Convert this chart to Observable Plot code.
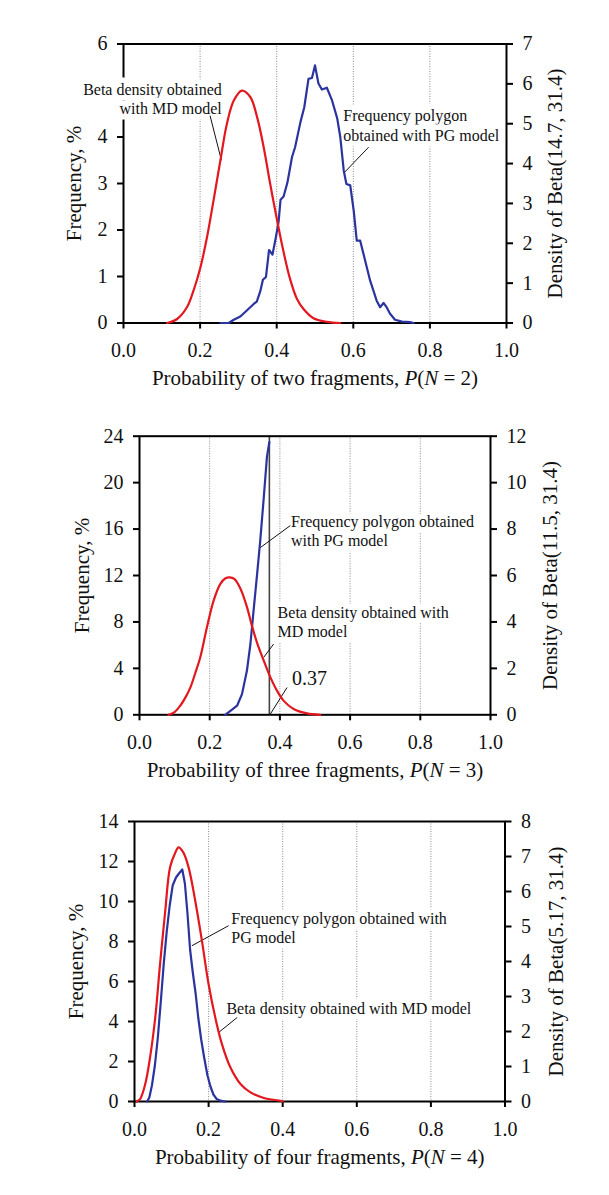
<!DOCTYPE html>
<html>
<head>
<meta charset="utf-8">
<script src="https://cdn.jsdelivr.net/npm/d3@7"></script>
<script src="https://cdn.jsdelivr.net/npm/@observablehq/plot@0.6"></script>
<style>
  body { margin: 0; background: #fff; }
  #wrap { position: relative; width: 609px; height: 1195px; overflow: hidden; background: #fff; }
  #border { position: absolute; left: 15px; top: 4px; width: 700px; height: 1300px; border-left: 1.5px solid #c8c8c8; border-top: 1.5px solid #c8c8c8; }
</style>
</head>
<body>
<div id="wrap"><div id="border"></div></div>
<script>
// ---------- shared ----------
const xTicks = [0, 0.2, 0.4, 0.6, 0.8, 1.0];
const gridX = [0.2, 0.4, 0.6, 0.8];

// ---------- Panel 1: P(N = 2) ----------
const p1FreqX = [0.253,0.275,0.288,0.305,0.322,0.331,0.340,0.348,0.357,0.364,0.372,0.380,0.389,0.398,0.405,0.410,0.418,0.428,0.440,0.448,0.462,0.472,0.483,0.492,0.500,0.509,0.518,0.531,0.544,0.558,0.566,0.575,0.582,0.592,0.601,0.609,0.618,0.631,0.644,0.661,0.670,0.679,0.687,0.696,0.709,0.727,0.748,0.757];
const p1FreqY = [0.00,0.00,0.07,0.14,0.27,0.34,0.41,0.46,0.68,0.93,0.99,1.57,1.47,1.85,2.18,2.65,2.72,3.02,3.57,3.78,4.32,4.64,5.25,5.27,5.54,5.15,5.02,5.06,4.80,4.40,4.00,3.28,2.99,2.96,2.42,1.77,1.77,1.34,0.91,0.48,0.34,0.43,0.34,0.20,0.07,0.03,0.02,0.00];
const p1BetaX = [0.114,0.140,0.166,0.183,0.201,0.218,0.235,0.253,0.270,0.288,0.309,0.331,0.349,0.366,0.383,0.401,0.418,0.435,0.453,0.470,0.496,0.531,0.566];
const p1BetaY = [0.00,0.10,0.40,0.82,1.40,2.15,3.07,4.08,5.00,5.58,5.83,5.67,5.16,4.41,3.49,2.58,1.78,1.10,0.60,0.35,0.12,0.03,0.00];
// the "5" tick of the left axis is hidden behind the annotation in the original
const p1LeftTicks = [0,1,2,3,4,6];
const p1RightTicks = [0,1,2,3,4,5,6,7];
const p1Texts = {
  left: "Frequency, %",
  right: "Density of Beta(14.7, 31.4)",
  bottom: "Probability of two fragments, P(N = 2)"
};
const p1Notes = [
  {x: 0.2566, y: 4.84, text: "Beta density obtained\nwith MD model", anchor: "end", size: 16},
  {x: 0.5737, y: 4.26, text: "Frequency polygon\nobtained with PG model", anchor: "start", size: 16}
];
const p1Leaders = [
  {x1: 0.226, y1: 4.46, x2: 0.2556, y2: 3.50},
  {x1: 0.640, y1: 3.78, x2: 0.577, y2: 3.24}
];

// ---------- Panel 2: P(N = 3) ----------
const p2FreqX = [0.244,0.259,0.278,0.292,0.306,0.316,0.325,0.335,0.344,0.354,0.363,0.370];
const p2FreqY = [0.0,0.34,0.78,1.78,3.79,6.1,8.97,12.1,15.0,18.7,22.2,23.5];
const p2BetaX = [0.083,0.100,0.116,0.131,0.145,0.159,0.173,0.192,0.211,0.230,0.245,0.257,0.270,0.287,0.306,0.320,0.335,0.354,0.373,0.392,0.411,0.439,0.477,0.515];
const p2BetaY = [0.00,0.12,0.39,0.75,1.18,1.80,2.47,3.76,4.91,5.63,5.88,5.92,5.85,5.45,4.65,3.85,3.10,2.33,1.61,1.03,0.60,0.25,0.06,0.00];
const p2LeftTicks = [0,4,8,12,16,20,24];
const p2RightTicks = [0,2,4,6,8,10,12];
const p2Marker = [0.37];
const p2Texts = {
  left: "Frequency, %",
  right: "Density of Beta(11.5, 31.4)",
  bottom: "Probability of three fragments, P(N = 3)"
};
const p2Notes = [
  {x: 0.4317, y: 15.9, text: "Frequency polygon obtained\nwith PG model", anchor: "start", size: 16},
  {x: 0.3935, y: 8.03, text: "Beta density obtained with\nMD model", anchor: "start", size: 16},
  {x: 0.4346, y: 3.22, text: "0.37", anchor: "start", size: 20}
];
const p2Leaders = [
  {x1: 0.4297, y1: 16.3, x2: 0.344, y2: 14.4},
  {x1: 0.382, y1: 6.09, x2: 0.3536, y2: 4.94},
  {x1: 0.4203, y1: 2.35, x2: 0.3727, y2: 0.06}
];

// ---------- Panel 3: P(N = 4) ----------
const p3FreqX = [0.034,0.040,0.047,0.055,0.063,0.071,0.079,0.087,0.095,0.103,0.112,0.120,0.129,0.136,0.143,0.150,0.157,0.165,0.172,0.180,0.188,0.197,0.205,0.213,0.222,0.232,0.245];
const p3FreqY = [0.0,0.2,0.8,1.8,3.2,5.0,6.9,8.5,9.8,10.8,11.2,11.4,11.6,10.9,9.4,7.6,6.5,5.4,4.2,3.1,2.2,1.3,0.75,0.35,0.12,0.04,0.0];
const p3BetaX = [0.006,0.015,0.029,0.042,0.056,0.069,0.083,0.096,0.110,0.119,0.132,0.146,0.164,0.182,0.200,0.218,0.236,0.259,0.286,0.313,0.349,0.394,0.400];
const p3BetaY = [0.00,0.07,0.50,1.26,2.40,3.93,5.45,6.69,7.11,7.26,7.11,6.69,5.73,4.59,3.35,2.40,1.64,0.97,0.50,0.26,0.10,0.02,0.00];
const p3LeftTicks = [0,2,4,6,8,10,12,14];
const p3RightTicks = [0,1,2,3,4,5,6,7,8];
const p3Texts = {
  left: "Frequency, %",
  right: "Density of Beta(5.17, 31.4)",
  bottom: "Probability of four fragments, P(N = 4)"
};
const p3Notes = [
  {x: 0.2614, y: 8.72, text: "Frequency polygon obtained with\nPG model", anchor: "start", size: 16},
  {x: 0.248, y: 4.70, text: "Beta density obtained with MD model", anchor: "start", size: 16}
];
const p3Leaders = [
  {x1: 0.254, y1: 8.79, x2: 0.155, y2: 7.79},
  {x1: 0.277, y1: 4.20, x2: 0.227, y2: 3.45}
];

// ---------- drawing ----------
const FONT = "'Liberation Serif','Times New Roman',Times,serif";
const BLUE = "#2b339e";
const RED = "#e3181f";

function zip(xs, ys) { return xs.map((x, i) => ({x, y: ys[i]})); }

function italicize(svg) {
  svg.querySelectorAll("text").forEach(t => {
    const s = t.textContent;
    const m = s.match(/^(.*), P\(N = (\d)\)$/);
    if (!m) return;
    while (t.firstChild) t.removeChild(t.firstChild);
    const NS = "http://www.w3.org/2000/svg";
    const add = (str, it) => {
      const ts = document.createElementNS(NS, "tspan");
      if (it) ts.setAttribute("font-style", "italic");
      ts.textContent = str;
      t.appendChild(ts);
    };
    add(m[1] + ", ", false);
    add("P", true);
    add("(", false);
    add("N", true);
    add(" = " + m[2] + ")", false);
  });
}

function panel(cfg) {
  const common = {
    width: 609, height: cfg.height,
    marginLeft: cfg.ml, marginRight: cfg.mr, marginTop: cfg.mt, marginBottom: cfg.mb
  };
  const freq = zip(cfg.freqX, cfg.freqY);
  const beta = zip(cfg.betaX, cfg.betaY);
  const startNotes = cfg.notes.filter(d => d.anchor === "start");
  const endNotes = cfg.notes.filter(d => d.anchor === "end");
  const noteMarks = [];
  for (const [arr, anchor] of [[startNotes, "start"], [endNotes, "end"]]) {
    for (const size of [16, 20]) {
      const sub = arr.filter(d => d.size === size);
      if (!sub.length) continue;
      noteMarks.push(Plot.text(sub, {
        x: "x", y: "y", text: "text", textAnchor: anchor, lineAnchor: "middle",
        fontSize: size, lineHeight: 1.19, fill: "#111",
        stroke: "white", strokeWidth: 11, strokeLinejoin: "round", paintOrder: "stroke"
      }));
    }
  }
  const A = Plot.plot({
    ...common,
    x: {domain: [0, 1]},
    y: {domain: [0, cfg.leftMax]},
    style: {fontFamily: FONT, background: "white", overflow: "visible"},
    marks: [
      Plot.ruleX(gridX, {stroke: "#8a8a8a", strokeWidth: 1, strokeDasharray: "1,1.5"}),
      ...(cfg.marker ? [Plot.ruleX(cfg.marker, {stroke: "#444", strokeWidth: 1.6})] : []),
      Plot.frame({stroke: "black", strokeWidth: 2}),
      Plot.axisX({ticks: xTicks, tickFormat: d3.format(".1f"), tickSize: 6, tickPadding: 14, fontSize: 20, strokeWidth: 2, stroke: "black", fill: "#111", label: null}),
      Plot.axisY({ticks: cfg.leftTicks, tickFormat: d3.format("d"), tickSize: 6, tickPadding: 10, fontSize: 20, strokeWidth: 2, stroke: "black", fill: "#111", label: null}),
      Plot.text([cfg.texts.bottom], {frameAnchor: "bottom", dy: cfg.dyB, lineAnchor: "middle", textAnchor: "middle", fontSize: 21, fill: "#111"}),
      Plot.text([cfg.texts.left], {frameAnchor: "left", dx: cfg.dxL, rotate: -90, lineAnchor: "middle", textAnchor: "middle", fontSize: 21, fill: "#111"}),
      Plot.text([cfg.texts.right], {frameAnchor: "right", dx: cfg.dxR, rotate: -90, lineAnchor: "middle", textAnchor: "middle", fontSize: 21, fill: "#111"}),
      ...noteMarks,
      Plot.link(cfg.leaders, {x1: "x1", y1: "y1", x2: "x2", y2: "y2", stroke: "#111", strokeWidth: 1}),
      Plot.line(freq, {x: "x", y: "y", stroke: BLUE, strokeWidth: 2.2, strokeLinejoin: "round"})
    ]
  });
  const B = Plot.plot({
    ...common,
    x: {domain: [0, 1], axis: null},
    y: {domain: [0, cfg.rightMax]},
    style: {fontFamily: FONT, background: "transparent", overflow: "visible"},
    marks: [
      Plot.axisY({anchor: "right", ticks: cfg.rightTicks, tickFormat: d3.format("d"), tickSize: 6, tickPadding: 10, fontSize: 20, strokeWidth: 2, stroke: "black", fill: "#111", label: null}),
      Plot.line(beta, {x: "x", y: "y", stroke: RED, strokeWidth: 2.2, curve: "catmull-rom"})
    ]
  });
  italicize(A);
  const wrap = document.getElementById("wrap");
  for (const svg of [A, B]) {
    svg.style.position = "absolute";
    svg.style.left = "0px";
    svg.style.top = cfg.top + "px";
    wrap.appendChild(svg);
  }
}

panel({top: 0, height: 395, ml: 123, mr: 103, mt: 43.5, mb: 72.5,
  leftMax: 6, rightMax: 7, leftTicks: p1LeftTicks, rightTicks: p1RightTicks,
  freqX: p1FreqX, freqY: p1FreqY, betaX: p1BetaX, betaY: p1BetaY,
  texts: p1Texts, notes: p1Notes, leaders: p1Leaders, dxL: -49, dxR: 49, dyB: 55.5});

panel({top: 395, height: 400, ml: 139, mr: 119, mt: 40.7, mb: 80.7,
  leftMax: 24, rightMax: 12, leftTicks: p2LeftTicks, rightTicks: p2RightTicks,
  freqX: p2FreqX, freqY: p2FreqY, betaX: p2BetaX, betaY: p2BetaY, marker: p2Marker,
  texts: p2Texts, notes: p2Notes, leaders: p2Leaders, dxL: -57.5, dxR: 59.5, dyB: 55.7});

panel({top: 795, height: 400, ml: 134, mr: 104.5, mt: 26, mb: 94,
  leftMax: 14, rightMax: 8, leftTicks: p3LeftTicks, rightTicks: p3RightTicks,
  freqX: p3FreqX, freqY: p3FreqY, betaX: p3BetaX, betaY: p3BetaY,
  texts: p3Texts, notes: p3Notes, leaders: p3Leaders, dxL: -58.5, dxR: 51, dyB: 55.7});
</script>
</body>
</html>
